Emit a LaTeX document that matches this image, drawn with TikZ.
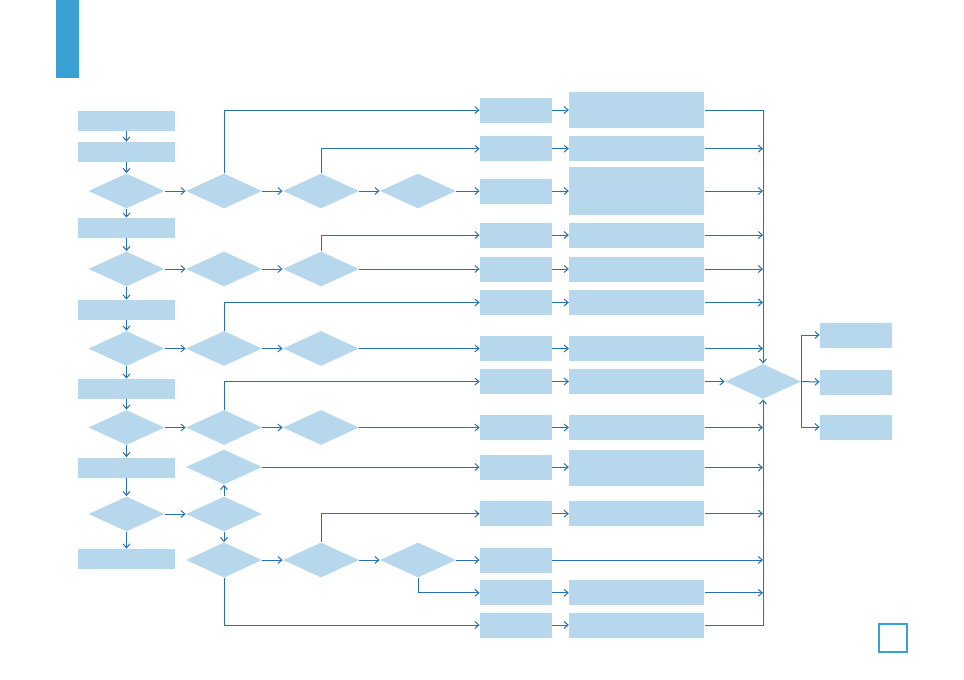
\documentclass[tikz,border=0pt]{standalone}
\usepackage{xcolor}
\usepackage{tikz}
\usetikzlibrary{arrows.meta,positioning,shapes.geometric}

\definecolor{boxblue}{HTML}{B7D7EC}
\definecolor{linkblue}{HTML}{2672B0}
\definecolor{barblue}{HTML}{3A9FD3}

\tikzset{
  stagebox/.style={fill=boxblue,inner sep=0pt,minimum width=48.5pt,minimum height=10pt},
  querybox/.style={diamond,fill=boxblue,inner sep=0pt,minimum width=38pt,minimum height=17.5pt},
  tagbox/.style={fill=boxblue,inner sep=0pt,minimum width=36pt,minimum height=12.5pt},
  notebox/.style={fill=boxblue,inner sep=0pt,minimum width=67.5pt,minimum height=#1},
  notebox/.default=12.5pt,
  link/.style={linkblue,line width=0.5pt,-{Straight Barb[length=2pt,width=3.5pt]}},
}

\begin{document}
\begin{tikzpicture}[x=0.5pt,y=-0.5pt]
  \useasboundingbox (0,0) rectangle (964,680);
  % --- header bar and page mark ---
  \fill[barblue] (56,0) rectangle (79,78);
  \draw[barblue,line width=1pt] (878.5,623.5) rectangle (906.5,651.5);
  % --- main column ---
  \node[stagebox] (l1) at (126.5,120.5) {};
  \node[stagebox] (l2) at (126.5,152) {};
  \node[querybox] (q1) at (126.5,191) {};
  \node[stagebox] (l3) at (126.5,228) {};
  \node[querybox] (q2) at (126.5,269) {};
  \node[stagebox] (l4) at (126.5,310) {};
  \node[querybox] (q3) at (126.5,348.5) {};
  \node[stagebox] (l5) at (126.5,389) {};
  \node[querybox] (q4) at (126.5,427.5) {};
  \node[stagebox] (l6) at (126.5,467.5) {};
  \node[querybox] (q5) at (126.5,514) {};
  \node[stagebox] (l7) at (126.5,559) {};
  \draw[link] (l1) -- (l2);
  \draw[link] (l2) -- (q1);
  \draw[link] (q1) -- (l3);
  \draw[link] (l3) -- (q2);
  \draw[link] (q2) -- (l4);
  \draw[link] (l4) -- (q3);
  \draw[link] (q3) -- (l5);
  \draw[link] (l5) -- (q4);
  \draw[link] (q4) -- (l6);
  \draw[link] (l6) -- (q5);
  \draw[link] (q5) -- (l7);
  % --- decision columns ---
  \foreach \n/\y in {1/191,2/269,3/348.5,4/427.5,5/467,6/514,7/560}
    \node[querybox] (a\n) at (224,\y) {};
  \foreach \n/\y in {1/191,2/269,3/348.5,4/427.5,7/560}
    \node[querybox] (b\n) at (321,\y) {};
  \node[querybox] (c1) at (418,191) {};
  \node[querybox] (c7) at (418,560) {};
  % --- result boxes ---
  \foreach \n/\y in {1/110,2/148.7,3/191,4/235,5/269,6/302.5,7/348.5,8/381.5,
                     9/427.5,10/467,11/513.7,12/560,13/592.8,14/625}
    \node[tagbox] (s\n) at (516,\y) {};
  \foreach \n/\y/\h in {1/110/18pt,2/148.7/12.5pt,3/191/24pt,4/235/12.5pt,
                        5/269/12.5pt,6/302.5/12.5pt,7/348.5/12.5pt,8/381.5/12.5pt,
                        9/427.5/12.5pt,10/467.5/18pt,11/513.7/12.5pt,
                        13/592.8/12.5pt,14/625/12.5pt}
    \node[notebox=\h] (w\n) at (636.7,\y) {};
  % --- hub and outputs ---
  \node[querybox] (hub) at (763,381.5) {};
  \node[tagbox] (r1) at (856,335) {};
  \node[tagbox] (r2) at (856,382) {};
  \node[tagbox] (r3) at (856,427) {};
  % --- links into the decision columns ---
  \draw[link] (q1) -- (a1);
  \draw[link] (q2) -- (a2);
  \draw[link] (q3) -- (a3);
  \draw[link] (q4) -- (a4);
  \draw[link] (q5) -- (a6);
  \draw[link] (a6) -- (a5);
  \draw[link] (a6) -- (a7);
  \draw[link] (a1) -- (b1);
  \draw[link] (b1) -- (c1);
  \draw[link] (a2) -- (b2);
  \draw[link] (a3) -- (b3);
  \draw[link] (a4) -- (b4);
  \draw[link] (a7) -- (b7);
  \draw[link] (b7) -- (c7);
  % --- links to the result boxes ---
  \draw[link] (a1.north) |- (s1.west);
  \draw[link] (b1.north) |- (s2.west);
  \draw[link] (c1) -- (s3);
  \draw[link] (b2.north) |- (s4.west);
  \draw[link] (b2) -- (s5);
  \draw[link] (a3.north) |- (s6.west);
  \draw[link] (b3) -- (s7);
  \draw[link] (a4.north) |- (s8.west);
  \draw[link] (b4) -- (s9);
  \draw[link] (a5) -- (s10);
  \draw[link] (b7.north) |- (s11.west);
  \draw[link] (c7) -- (s12);
  \draw[link] (c7.south) |- (s13.west);
  \draw[link] (a7.south) |- (s14.west);
  \foreach \n in {1,...,11,13,14}
    \draw[link] (s\n.east) -- (s\n.east -| w\n.west);
  % --- collecting bus ---
  \draw[link] (w1.east) -| (hub.north);
  \draw[link] (w14.east) -| (hub.south);
  \foreach \n in {2,3,4,5,6,7,9,10,11,13}
    \draw[link] (w\n.east) -- (w\n.east -| hub.north);
  \draw[link] (s12.east) -- (s12.east -| hub.north);
  \draw[link] (w8) -- (hub);
  \draw[link] (hub.east) |- (r1.west);
  \draw[link] (hub) -- (r2);
  \draw[link] (hub.east) |- (r3.west);
\end{tikzpicture}
\end{document}
